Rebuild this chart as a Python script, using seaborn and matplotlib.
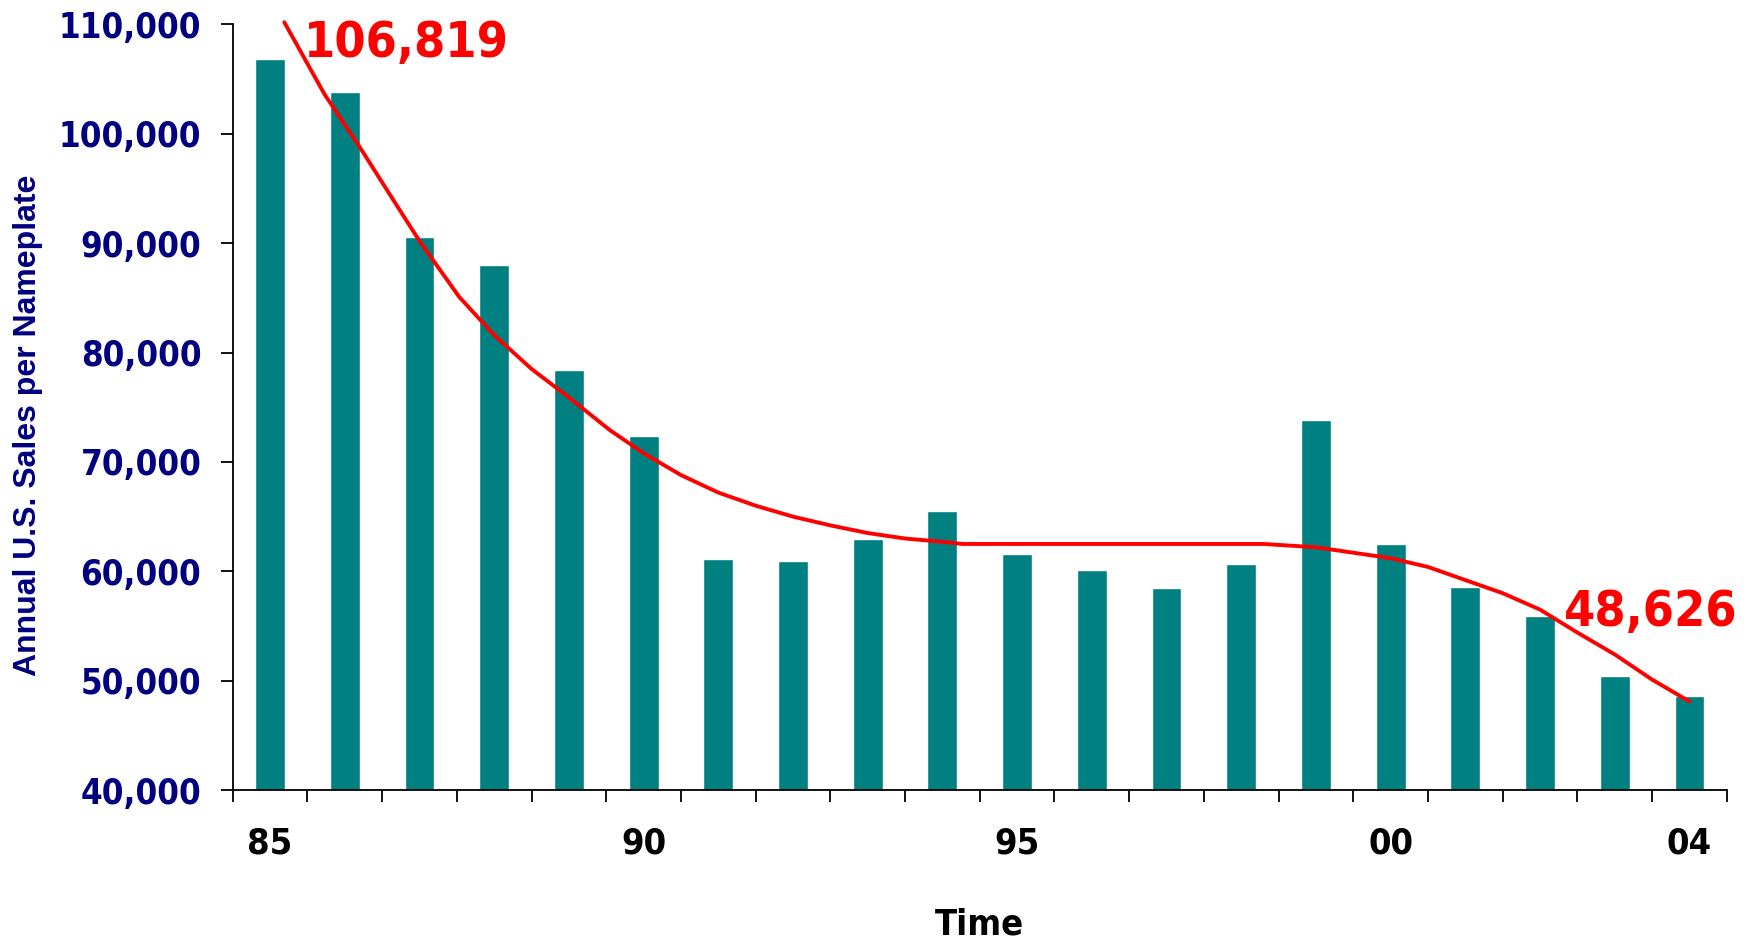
import matplotlib
matplotlib.use('Agg')
import matplotlib.pyplot as plt
import matplotlib.ticker as mticker
import numpy as np
import pandas as pd
import seaborn as sns

YEARS = ['85', '86', '87', '88', '89', '90', '91', '92', '93', '94',
         '95', '96', '97', '98', '99', '00', '01', '02', '03', '04']
SALES = [106819, 103800, 90600, 88000, 78400, 72400, 61100, 60900, 63000, 65500,
         61600, 60100, 58500, 60700, 73800, 62500, 58600, 55900, 50400, 48626]

# smoothed trend line, x in category positions
TREND_X = [0.19, 0.73, 1.18, 1.71, 2.0, 2.53, 3.0, 3.5, 4.0, 4.55, 5.0, 5.5,
           6.0, 6.5, 7.0, 7.5, 8.0, 8.5, 9.0, 9.27, 13.3, 14.0, 14.5, 15.0,
           15.5, 16.0, 16.5, 17.0, 17.5, 18.0, 18.5, 19.0]
TREND_Y = [110200, 103600, 99000, 93300, 90200, 85100, 81600, 78500, 75900,
           72900, 70800, 68800, 67200, 66000, 65000, 64200, 63500, 63000,
           62700, 62500, 62500, 62200, 61700, 61200, 60400, 59200, 58000,
           56500, 54400, 52400, 50100, 48100]

LABELED_TICKS = ['85', '90', '95', '00', '04']

NAVY = '#000080'
TEAL = '#008080'

sns.set_style('white')
plt.rcParams['font.family'] = ['DejaVu Sans']

df = pd.DataFrame({'year': YEARS, 'sales': SALES})

fig = plt.figure(figsize=(17.46, 9.40), dpi=100)
ax = fig.add_axes([0.1333, 0.1595, 0.8557, 0.8145])

sns.barplot(data=df, x='year', y='sales', color=TEAL, width=0.4,
            saturation=1, ax=ax)
ax.plot(TREND_X, TREND_Y, color='red', linewidth=2.8, clip_on=False)

ax.set_xlim(-0.5, len(YEARS) - 0.5)
ax.set_ylim(40000, 110000)
ax.yaxis.set_major_locator(mticker.MultipleLocator(10000))
ax.yaxis.set_major_formatter(mticker.StrMethodFormatter('{x:,.0f}'))

# labels only on a few years, tick marks between categories
pos = [YEARS.index(y) for y in LABELED_TICKS]
ax.set_xticks(pos)
ax.set_xticklabels(LABELED_TICKS)
ax.set_xticks(np.arange(-0.5, len(YEARS)), minor=True)
ax.tick_params(axis='x', which='major', length=0, pad=26, labelsize=26,
               labelcolor='black')
ax.tick_params(axis='x', which='minor', length=8.6, width=1.3,
               direction='out', color='black', bottom=True)
ax.tick_params(axis='y', which='major', length=8.6, width=1.3,
               direction='out', color='black', left=True, pad=14,
               labelsize=25, labelcolor=NAVY)
for lab in ax.get_xticklabels() + ax.get_yticklabels():
    lab.set_fontweight('bold')
    lab.set_fontstretch('condensed')

for side in ['top', 'right']:
    ax.spines[side].set_visible(False)
for side in ['left', 'bottom']:
    ax.spines[side].set_color('black')
    ax.spines[side].set_linewidth(1.3)

ax.set_xlabel('Time', fontsize=26, fontweight='bold', color='black',
              labelpad=34, fontstretch='condensed')
ax.set_ylabel('')
fig.text(0.016, 0.548, 'Annual U.S. Sales per Nameplate', rotation=90,
         ha='center', va='center', fontsize=23, fontweight='bold',
         color=NAVY, family=['Liberation Sans', 'DejaVu Sans'])

ax.text(0.45, 107000, f'{SALES[0]:,}', color='red', fontsize=36,
        fontweight='bold', fontstretch='condensed', ha='left',
        va='baseline', clip_on=False)
ax.text(19.65, 55000, f'{SALES[-1]:,}', color='red', fontsize=36,
        fontweight='bold', fontstretch='condensed', ha='right',
        va='baseline', clip_on=False)

fig.savefig('out.png', dpi=100)
